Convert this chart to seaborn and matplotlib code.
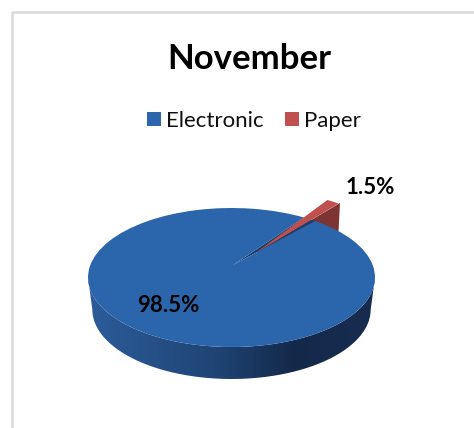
import numpy as np
import matplotlib.pyplot as plt
from matplotlib.lines import Line2D
from matplotlib.patches import PathPatch
from matplotlib.path import Path
from matplotlib.colors import LinearSegmentedColormap
import seaborn as sns

sns.set_theme(style="white")
plt.rcParams["font.family"] = ["Lato", "DejaVu Sans"]

categories = ["Electronic", "Paper"]
shares = [98.5, 1.5]
title = "November"

W, H = 474, 428
BLUE = "#2b65ab"
RED = "#c0504d"
# pie ellipse in image pixels
X0, X1, Y0, Y1 = 88, 375, 208, 347


def ellipse_pts(a0, a1, rx=1.0, cy=0.0, n=120):
    t = np.radians(np.linspace(a0, a1, n))
    return np.column_stack([rx * np.cos(t), cy + np.sin(t)])


def to_unit(px, py):
    return (px - (X0 + X1) / 2) / ((X1 - X0) / 2), ((Y0 + Y1) / 2 - py) / ((Y1 - Y0) / 2)


fig = plt.figure(figsize=(W / 100, H / 100), dpi=100, facecolor="white")

# chart border, only top and left are inside the crop
fig.add_artist(Line2D([12 / W, 12 / W, 1], [0, 1 - 12 / H, 1 - 12 / H], transform=fig.transFigure,
                      color="#d9d9d9", lw=1.8))

ax = fig.add_axes([X0 / W, 1 - Y1 / H, (X1 - X0) / W, (Y1 - Y0) / H])
mid = 57
span = shares[1] * 3.6
start = mid + span / 2
wedges, texts, autotexts = ax.pie(
    shares,
    colors=[BLUE, RED],
    startangle=start,
    explode=[0, 0.3],
    radius=1,
    autopct="%.1f%%",
    wedgeprops={"linewidth": 0, "clip_on": False},
    textprops={"fontsize": 16, "fontweight": "bold", "color": "black", "clip_on": False},
)
ax.set_aspect("auto")


# the chart has a perspective, so the slices meet above the middle of the ellipse
def move_apex(wedge, old, new):
    v = wedge.get_path().vertices
    v[np.all(np.isclose(v, old), axis=1)] = new


a_mid = np.radians(mid)
old_red = (0.3 * np.cos(a_mid), 0.3 * np.sin(a_mid))
blue_apex = to_unit(233, 265)
red_apex = to_unit(257, 252)
move_apex(wedges[0], (0, 0), blue_apex)
move_apex(wedges[1], old_red, red_apex)
wedges[0].set_zorder(4)
wedges[1].set_zorder(5)

# side wall with a gradient
thick = 32 / ((Y1 - Y0) / 2)
wall = np.vstack([ellipse_pts(180, 360), ellipse_pts(360, 180, rx=0.97, cy=-thick)])
wall_patch = PathPatch(Path(np.vstack([wall, wall[0]])), fc="none", ec="none", transform=ax.transData)
ax.add_patch(wall_patch)
cmap = LinearSegmentedColormap.from_list(
    "wall", [(0, "#2c5c9a"), (0.45, "#1f4474"), (0.72, "#14294a"), (1, "#172c50")]
)
im = ax.imshow(np.linspace(0, 1, 256)[None, :], extent=(-1, 1, -1 - thick, 1), cmap=cmap,
               aspect="auto", zorder=3)
im.set_clip_path(wall_patch)
im.set_clip_box(fig.bbox)
ax.set_xlim(-1, 1)
ax.set_ylim(-1, 1)

# inside of the notch in the big slice
notch_a = np.radians([start, start - span])
notch = np.array([blue_apex, (np.cos(notch_a[0]), np.sin(notch_a[0])), (np.cos(notch_a[1]), np.sin(notch_a[1])), blue_apex])
ax.add_patch(PathPatch(Path(notch), fc="#1d3f6e", ec="none", zorder=3.5, clip_on=False))

# exploded slice, outer face behind the big slice
rim = to_unit(340, 203)
face = np.array([rim, red_apex, (red_apex[0], red_apex[1] - thick), (rim[0] - 0.01, rim[1] - 28 / 69.5), rim])
ax.add_patch(PathPatch(Path(face), fc="#7d3533", ec="none", zorder=2, clip_on=False))

# labels
autotexts[0].set_position(to_unit(168, 306))
autotexts[1].set_position(to_unit(370, 187))
autotexts[0].set_zorder(6)
autotexts[1].set_zorder(6)

fig.text(249 / W, 1 - 59 / H, title, fontsize=25, fontweight="bold", color="black", ha="center", va="center")
fig.legend(wedges, categories, loc="center", bbox_to_anchor=(254 / W, 1 - 121 / H), ncol=2, frameon=False,
           fontsize=16, labelcolor="#111111", handlelength=0.62, handleheight=0.62, handletextpad=0.25,
           columnspacing=0.95)

plt.savefig("out.png", dpi=100)
